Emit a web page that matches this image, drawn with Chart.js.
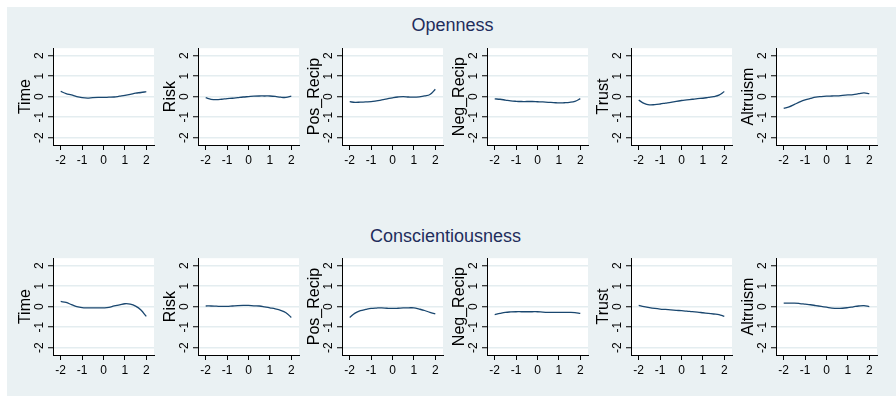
<!DOCTYPE html>
<html>
<head>
<meta charset="utf-8">
<script src="https://cdn.jsdelivr.net/npm/chart.js@4.4.1/dist/chart.umd.min.js"></script>
<style>
  html, body { margin: 0; padding: 0; background: #fff; }
  #frame { position: relative; width: 896px; height: 396px; overflow: hidden; background: #fff; }
  #bg { position: absolute; left: 7px; top: 7px; right: 0; bottom: 0; background: rgb(234, 241, 243); }
  .trait {
    position: absolute; font-family: "Liberation Sans", Arial, sans-serif;
    font-size: 18px; line-height: 18px; color: #1f2d5c; white-space: nowrap;
    transform: translateX(-50%);
  }
  canvas { position: absolute; }
</style>
</head>
<body>
<div id="frame"><div id="bg"></div></div>
<script>
// Traits (one row each) and the preference measures (one panel each)
const traits = ['Openness', 'Conscientiousness'];
const measures = ['Time', 'Risk', 'Pos_Recip', 'Neg_Recip', 'Trust', 'Altruism'];
const tickValues = [-2, -1, 0, 1, 2];

// Standardised trait score at which each smoothed curve is evaluated
const xGrid = [-2, -1.75, -1.5, -1.25, -1, -0.75, -0.5, -0.25, 0, 0.25, 0.5, 0.75, 1, 1.25, 1.5, 1.75, 2];

// Openness
const openTime      = [0.25, 0.15, 0.08, 0.0, -0.05, -0.07, -0.05, -0.04, -0.04, -0.03, -0.02, 0.02, 0.06, 0.11, 0.17, 0.2, 0.24];
const openRisk      = [-0.05, -0.13, -0.15, -0.13, -0.1, -0.08, -0.05, -0.02, 0.0, 0.02, 0.03, 0.03, 0.03, 0.01, -0.03, -0.04, 0.02];
const openPosRecip  = [-0.25, -0.28, -0.27, -0.26, -0.25, -0.21, -0.16, -0.11, -0.06, -0.02, 0.0, -0.02, -0.03, -0.01, 0.03, 0.1, 0.36];
const openNegRecip  = [-0.11, -0.13, -0.17, -0.21, -0.23, -0.24, -0.24, -0.24, -0.25, -0.26, -0.28, -0.29, -0.31, -0.3, -0.28, -0.23, -0.1];
const openTrust     = [-0.17, -0.33, -0.4, -0.39, -0.36, -0.32, -0.28, -0.23, -0.19, -0.16, -0.13, -0.1, -0.08, -0.04, 0.0, 0.07, 0.25];
const openAltruism  = [-0.58, -0.5, -0.38, -0.26, -0.16, -0.09, -0.03, 0.0, 0.02, 0.03, 0.04, 0.06, 0.08, 0.1, 0.14, 0.18, 0.14];

// Conscientiousness
const consTime      = [0.25, 0.2, 0.1, 0.0, -0.05, -0.06, -0.06, -0.06, -0.06, -0.04, 0.03, 0.08, 0.14, 0.12, 0.02, -0.17, -0.48];
const consRisk      = [0.03, 0.03, 0.02, 0.01, 0.01, 0.03, 0.05, 0.06, 0.06, 0.04, 0.03, -0.01, -0.06, -0.11, -0.18, -0.3, -0.53];
const consPosRecip  = [-0.53, -0.32, -0.2, -0.14, -0.09, -0.07, -0.06, -0.08, -0.09, -0.08, -0.06, -0.06, -0.06, -0.12, -0.19, -0.28, -0.36];
const consNegRecip  = [-0.39, -0.33, -0.28, -0.26, -0.25, -0.25, -0.25, -0.25, -0.25, -0.27, -0.28, -0.28, -0.28, -0.28, -0.28, -0.29, -0.33];
const consTrust     = [0.06, 0.0, -0.05, -0.09, -0.12, -0.14, -0.16, -0.18, -0.2, -0.22, -0.25, -0.27, -0.3, -0.33, -0.36, -0.39, -0.48];
const consAltruism  = [0.17, 0.17, 0.17, 0.15, 0.12, 0.09, 0.05, 0.01, -0.03, -0.07, -0.09, -0.08, -0.05, -0.01, 0.03, 0.05, 0.0];

const rows = [
  [openTime, openRisk, openPosRecip, openNegRecip, openTrust, openAltruism],
  [consTime, consRisk, consPosRecip, consNegRecip, consTrust, consAltruism]
];

// Page layout
const FONT = '"Liberation Sans", Arial, Helvetica, sans-serif';
const panelLeft = [53, 198, 342, 487, 631, 776];
const rowTop = [44, 254];
const plotW = 101, plotH = 101;
const yAxisW = 48, xAxisH = 26, padTop = 6, padRight = 2;
const titleCenter = [452.5, 445.5];
const titleTop = [16, 227];
const AXIS_LIM = 2.36;

const frame = document.getElementById('frame');

traits.forEach((name, r) => {
  const t = document.createElement('div');
  t.className = 'trait';
  t.textContent = name;
  t.style.left = titleCenter[r] + 'px';
  t.style.top = titleTop[r] + 'px';
  frame.appendChild(t);
});

// White plot region behind grid and curve
const plotBackground = {
  id: 'plotBackground',
  beforeDraw(chart) {
    const { ctx, chartArea: a } = chart;
    ctx.save();
    ctx.fillStyle = '#ffffff';
    ctx.fillRect(a.left, a.top, a.right - a.left, a.bottom - a.top);
    ctx.restore();
  }
};

const fixedTicks = axis => { axis.ticks = tickValues.map(v => ({ value: v })); };

rows.forEach((series, r) => {
  series.forEach((values, c) => {
    const cv = document.createElement('canvas');
    const w = yAxisW + plotW + padRight;
    const h = padTop + plotH + xAxisH;
    cv.width = w; cv.height = h;
    cv.style.width = w + 'px'; cv.style.height = h + 'px';
    cv.style.left = (panelLeft[c] - yAxisW) + 'px';
    cv.style.top = (rowTop[r] - padTop) + 'px';
    frame.appendChild(cv);

    new Chart(cv, {
      type: 'line',
      data: {
        datasets: [{
          data: xGrid.map((x, i) => ({ x: x, y: values[i] })),
          borderColor: '#1a476f',
          borderWidth: 1.3,
          pointRadius: 0,
          tension: 0.4,
          fill: false
        }]
      },
      plugins: [plotBackground],
      options: {
        responsive: false,
        animation: false,
        devicePixelRatio: 1,
        events: [],
        layout: { padding: { top: padTop, right: padRight, left: 0, bottom: 0 } },
        plugins: { legend: { display: false }, tooltip: { enabled: false } },
        scales: {
          x: {
            type: 'linear', min: -AXIS_LIM, max: AXIS_LIM,
            afterBuildTicks: fixedTicks,
            afterFit: s => { s.height = xAxisH; },
            ticks: { font: { family: FONT, size: 12 }, color: '#000', padding: 3, maxRotation: 0, autoSkip: false },
            grid: { drawOnChartArea: false, tickLength: 5, tickColor: '#000', tickWidth: 1 },
            border: { display: true, color: '#000', width: 1 }
          },
          y: {
            type: 'linear', min: -AXIS_LIM, max: AXIS_LIM,
            afterBuildTicks: fixedTicks,
            afterFit: s => { s.width = yAxisW; },
            ticks: {
              font: { family: FONT, size: 12 }, color: '#000', padding: 3,
              minRotation: 90, maxRotation: 90, crossAlign: 'center', autoSkip: false
            },
            grid: { color: '#e4edf0', lineWidth: 1.5, tickLength: 5, tickColor: '#000', tickWidth: 1 },
            border: { display: true, color: '#000', width: 1 },
            title: {
              display: true, text: measures[c], color: '#000',
              font: { family: FONT, size: 16, lineHeight: 1 },
              padding: { top: 13, bottom: 0 }
            }
          }
        }
      }
    });
  });
});
</script>
</body>
</html>
